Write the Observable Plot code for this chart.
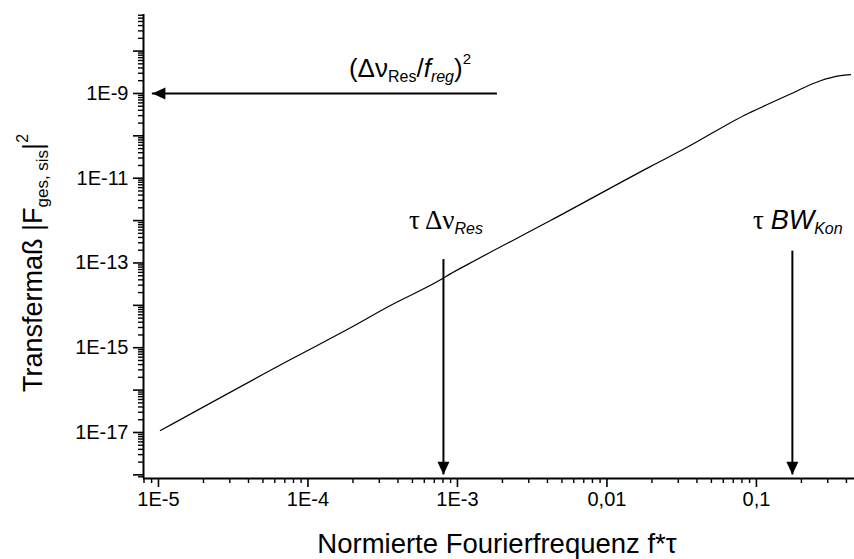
<!DOCTYPE html>
<html><head><meta charset="utf-8">
<script src="https://cdn.jsdelivr.net/npm/d3@7"></script>
<script src="https://cdn.jsdelivr.net/npm/@observablehq/plot@0.6"></script>
<style>body{margin:0;background:#fff}</style>
</head><body><div id="chart"></div>
<script>
// --- data ---
const freq = [1.03e-5, 8.04e-5, 1.83e-4, 3.56e-4, 7.91e-4, 8.97e-4, 1.19e-3, 4.19e-3, 1.95e-2, 3.44e-2, 8.67e-2, 9.12e-2, 0.169, 0.268, 0.365, 0.426];
const transfer = [1.11e-17, 5.78e-16, 2.69e-15, 9.9e-15, 4.22e-14, 5.53e-14, 9.53e-14, 1.0e-12, 1.88e-11, 5.36e-11, 3.29e-10, 3.58e-10, 9.7e-10, 2.0e-9, 2.63e-9, 2.77e-9];

const xTickValues = [1e-5, 1e-4, 1e-3, 1e-2, 1e-1];
const xTickLabels = ["1E-5", "1E-4", "1E-3", "0,01", "0,1"];
const yTickValues = [1e-17, 1e-15, 1e-13, 1e-11, 1e-9];
const yTickLabels = ["1E-17", "1E-15", "1E-13", "1E-11", "1E-9"];

// annotations
const plateauLevel = [1e-9];            // (Δν_Res/f_reg)^2
const plateauArrowFrom = [1.85e-3];
const plateauArrowTo = [9.1e-6];
const markerFreqs = [8.06e-4, 0.174];   // τΔν_Res, τBW_Kon
const markerTops = [1.2e-13, 1.9e-13];
const markerTip = [1e-18];
const markerLabelLevel = [6.2e-13];     // baseline of the τ labels

const xDomain = [7.94e-6, 0.453];
const yDomain = [8.2e-19, 7.3e-8];

const rows = freq.map((f, i) => ({f, v: transfer[i]}));

// tick lists
const xMinor = [];
for (let e = -6; e <= -1; e++) for (let m = 2; m <= 9; m++) { const v = m * 10 ** e; if (v >= xDomain[0] && v <= xDomain[1]) xMinor.push(v); }
const yMajor = [], yMinor = [];
for (let e = -18; e <= -8; e++) yMajor.push(10 ** e);
for (let e = -19; e <= -8; e++) for (let m = 2; m <= 9; m++) { const v = m * 10 ** e; if (v >= yDomain[0] && v <= yDomain[1]) yMinor.push(v); }

const key = d => Math.round(Math.log10(d));
const yLab = new Map(yTickValues.map((v, i) => [key(v), yTickLabels[i]]));
const xLab = new Map(xTickValues.map((v, i) => [key(v), xTickLabels[i]]));

const triDown = {draw(ctx) { ctx.moveTo(0, 0); ctx.lineTo(-6, -13); ctx.lineTo(6, -13); ctx.closePath(); }};
const triLeft = {draw(ctx) { ctx.moveTo(0, 0); ctx.lineTo(13, -6); ctx.lineTo(13, 6); ctx.closePath(); }};

const plot = Plot.plot({
  width: 854, height: 559,
  marginLeft: 143, marginRight: 0, marginTop: 14, marginBottom: 81,
  x: {type: "log", domain: xDomain},
  y: {type: "log", domain: yDomain},
  style: {fontFamily: "'Liberation Sans', Arial, sans-serif", fontSize: "20px", color: "black", background: "white"},
  marks: [
    Plot.axisX(xMinor, {tickSize: 5, tickFormat: () => "", strokeWidth: 1.4, label: null}),
    Plot.axisX(xTickValues, {tickSize: 9, tickPadding: 4, tickFormat: d => xLab.get(key(d)) ?? "", strokeWidth: 1.6, label: null}),
    Plot.axisY(yMinor, {tickSize: 5, tickFormat: () => "", strokeWidth: 1.4, label: null}),
    Plot.axisY(yMajor, {tickSize: 10, tickPadding: 5, tickFormat: d => yLab.get(key(d)) ?? "", strokeWidth: 1.6, label: null}),
    Plot.ruleX([xDomain[0]], {strokeWidth: 2}),
    Plot.ruleY([yDomain[0]], {strokeWidth: 2}),
    Plot.line(rows, {x: "f", y: "v", strokeWidth: 1.2, curve: "monotone-x"}),
    // horizontal arrow
    Plot.ruleY(plateauLevel, {y: d => d, x1: (d, i) => plateauArrowFrom[i], x2: (d, i) => plateauArrowTo[i], strokeWidth: 2}),
    Plot.dot(plateauLevel, {y: d => d, x: (d, i) => plateauArrowTo[i], symbol: triLeft, r: 5, fill: "black", stroke: "none"}),
    // vertical arrows
    Plot.ruleX(markerFreqs, {x: d => d, y1: (d, i) => markerTops[i], y2: () => markerTip[0], strokeWidth: 2}),
    Plot.dot(markerFreqs, {x: d => d, y: () => markerTip[0], symbol: triDown, r: 5, fill: "black", stroke: "none"})
  ]
});
document.getElementById("chart").appendChild(plot);

// --- text annotations positioned through the plot's scales ---
const sx = plot.scale("x"), sy = plot.scale("y");
const svg = d3.select(plot);
const sans = "'Liberation Sans', Arial, sans-serif";
const serif = "'Liberation Serif', 'Times New Roman', serif";

function addSpans(t, spans) {
  spans.forEach(s => {
    const ts = t.append("tspan").text(s.t);
    if (s.fs) ts.attr("font-size", s.fs);
    if (s.it) ts.attr("font-style", "italic");
    if (s.ff) ts.attr("font-family", s.ff);
    if (s.dy) ts.attr("dy", s.dy);
  });
}

// (Δν_Res / f_reg)^2
{
  const t = svg.append("text")
    .attr("x", sx.apply(4.85e-4)).attr("y", sy.apply(plateauLevel[0]) - 16)
    .attr("text-anchor", "middle").attr("font-family", sans).attr("font-size", 26).attr("fill", "black");
  addSpans(t, [
    {t: "(Δν"}, {t: "Res", fs: 16, dy: 5}, {t: "/", dy: -5}, {t: "f", it: true},
    {t: "reg", it: true, fs: 16, dy: 5}, {t: ")", dy: -5}, {t: "2", fs: 15, dy: -13}
  ]);
}
// τ Δν_Res
{
  const t = svg.append("text")
    .attr("x", sx.apply(markerFreqs[0]) + 3).attr("y", sy.apply(markerLabelLevel[0]))
    .attr("text-anchor", "middle").attr("font-family", serif).attr("font-size", 27).attr("fill", "black");
  addSpans(t, [{t: "τ Δν"}, {t: "Res", fs: 16, it: true, ff: sans, dy: 5}]);
}
// τ BW_Kon
{
  const t = svg.append("text")
    .attr("x", sx.apply(markerFreqs[1]) + 6).attr("y", sy.apply(markerLabelLevel[0]))
    .attr("text-anchor", "middle").attr("font-family", serif).attr("font-size", 27).attr("fill", "black");
  addSpans(t, [{t: "τ "}, {t: "BW", it: true, ff: sans}, {t: "Kon", fs: 16, it: true, ff: sans, dy: 5}]);
}
// x-axis title
svg.append("text").attr("x", 497).attr("y", 553).attr("text-anchor", "middle")
  .attr("font-family", sans).attr("font-size", 27.5).attr("fill", "black")
  .text("Normierte Fourierfrequenz f*τ");
// y-axis title
{
  const t = svg.append("text").attr("transform", "translate(42,263) rotate(-90)")
    .attr("text-anchor", "middle").attr("font-family", sans).attr("font-size", 27).attr("fill", "black");
  addSpans(t, [{t: "Transfermaß |F"}, {t: "ges, sis", fs: 17, dy: 6}, {t: "|", dy: -6}, {t: "2", fs: 16, dy: -14}]);
}
</script>
</body></html>
